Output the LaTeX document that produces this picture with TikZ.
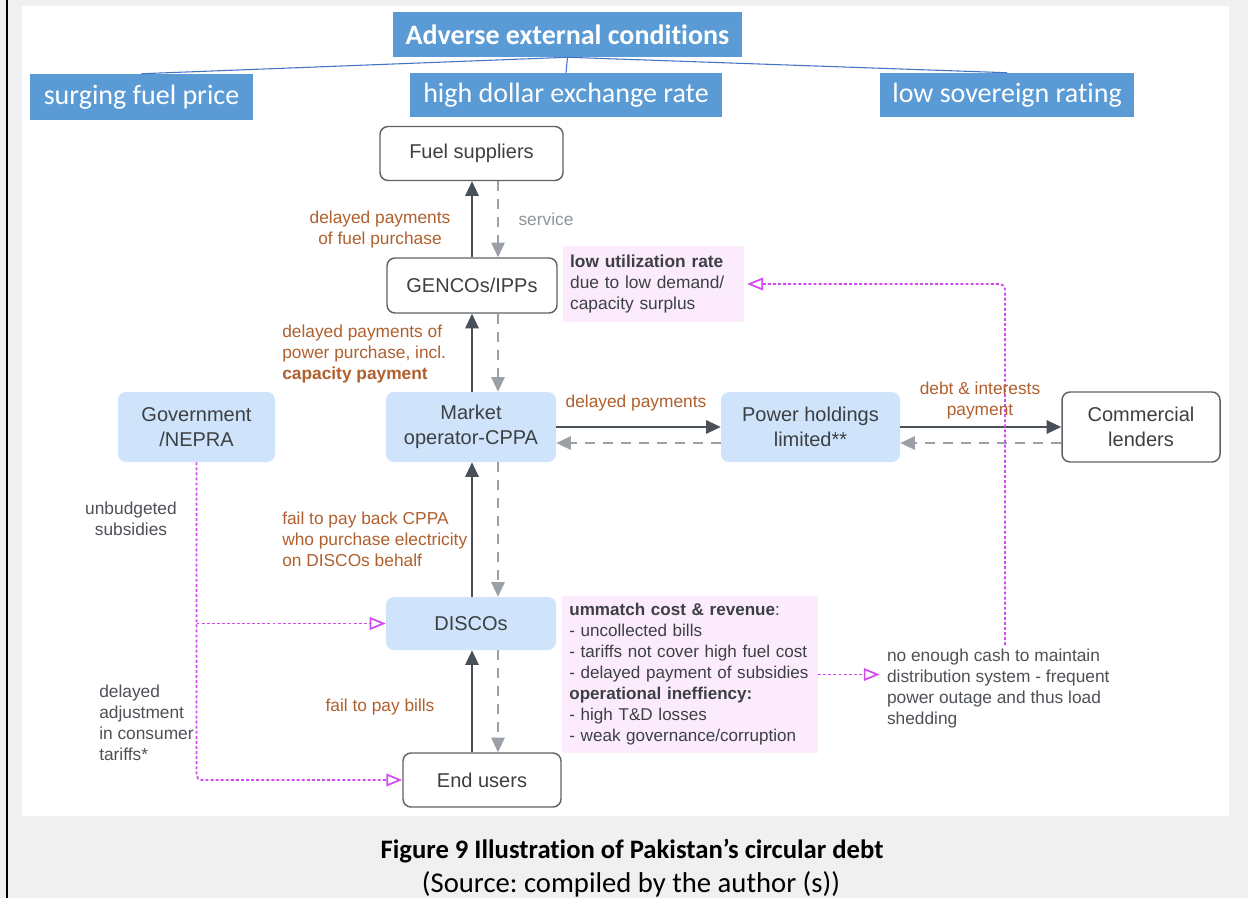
\documentclass[tikz,border=0pt]{standalone}
\usepackage{fontspec}
\setmainfont{Liberation Sans}
\newfontfamily\carlito[Ligatures=NoCommon]{Carlito}
\usetikzlibrary{arrows.meta}
\frenchspacing
\definecolor{bg}{HTML}{F0F0F0}
\definecolor{topblue}{HTML}{5B9BD5}
\definecolor{topline}{HTML}{4472C4}
\definecolor{lblue}{HTML}{CFE4FB}
\definecolor{txt}{HTML}{3C4043}
\definecolor{brd}{HTML}{5F6368}
\definecolor{solidc}{HTML}{4A5058}
\definecolor{dashc}{HTML}{9AA0A6}
\definecolor{orangec}{HTML}{B0602E}
\definecolor{pinkf}{HTML}{FBEBFD}
\definecolor{mag}{HTML}{D04CF0}
\definecolor{graytxt}{HTML}{4D5156}
\definecolor{svcgray}{HTML}{8F959B}
\tikzset{
  sz/.style 2 args={minimum width=#1*0.75pt, minimum height=#2*0.75pt},
  topbox/.style={fill=topblue, text=white, font=\carlito\fontsize{21}{24}\selectfont, inner sep=0pt},
  wbox/.style={draw=brd, line width=1.1pt, fill=white, rounded corners=6pt, text=txt,
    font=\fontsize{15}{18.75}\selectfont, align=center, inner sep=0pt},
  bbox/.style={fill=lblue, rounded corners=6pt, text=txt,
    font=\fontsize{15}{18.75}\selectfont, align=center, inner sep=0pt},
  note/.style={fill=pinkf, text=txt, font=\fontsize{12.8}{15.75}\selectfont, align=left,
    inner xsep=5.5pt, inner ysep=0pt},
  lbl/.style={text=orangec, font=\fontsize{13}{15.75}\selectfont, inner sep=0pt},
  glbl/.style={text=graytxt, font=\fontsize{13}{15.75}\selectfont, inner sep=0pt},
  pay/.style={draw=solidc, line width=1.5pt, -{Triangle[length=11pt,width=10pt]}},
  svc/.style={draw=dashc, line width=1.3pt, dash pattern=on 7.5pt off 6pt, -{Triangle[length=11pt,width=10pt]}},
  dotarr/.style={draw=mag, line width=1.4pt, dash pattern=on 2.2pt off 1.6pt, -{Triangle[open,length=12pt,width=9.5pt,line width=1.3pt]}},
}
\begin{document}
\begin{tikzpicture}[x=0.75pt,y=-0.75pt]
\fill[bg] (0,0) rectangle (1248,898);
\fill[white] (22,6) rectangle (1229,816);
\fill[black] (6,0) rectangle (8,898);
\useasboundingbox (0,0) rectangle (1248,898);

% top boxes
\node[topbox, sz={349}{45}, font=\carlito\bfseries\fontsize{21}{24}\selectfont] (adv) at (567.5,34.5) {Adverse external conditions};
\node[topbox, sz={223}{46}] (surg) at (141.5,97) {surging fuel price};
\node[topbox, sz={312}{44}] (high) at (566,95) {high dollar exchange rate};
\node[topbox, sz={254}{44}] (low) at (1007,95) {low sovereign rating};
\draw[topline, line width=0.8pt] (adv.south) -- (surg.north);
\draw[topline, line width=0.8pt] (adv.south) -- (high.north);
\draw[topline, line width=0.8pt] (adv.south) -- (low.north);

% main nodes
\node[wbox, sz={183}{54}] (fuel) at (471.5,153.5) {Fuel suppliers};
\node[wbox, sz={170}{55}] (genco) at (472,285.5) {GENCOs/IPPs};
\node[bbox, sz={170}{70}] (mkt) at (471,427) {Market\\operator-CPPA};
\node[bbox, sz={157}{70}] (gov) at (196.5,427) {Government\\/NEPRA};
\node[bbox, sz={179}{70}] (ph) at (810.5,427) {Power holdings\\limited**};
\node[wbox, sz={158}{70}] (cl) at (1141,427) {Commercial\\lenders};
\node[bbox, sz={170}{53}] (disc) at (471,623.5) {DISCOs};
\node[wbox, sz={158}{54}] (eu) at (482,780) {End users};

% notes
\node[note, font=\fontsize{13}{15.75}\selectfont, text width=125pt, minimum height=76*0.75pt] (lowu) at (653.5,284)
  {\textbf{low utilization rate}\\due to low demand/\\capacity surplus};
\node[note, text width=181pt, minimum height=157*0.75pt] (um) at (690,674.5)
  {\textbf{ummatch cost \& revenue}:\\- uncollected bills\\- tariffs not cover high fuel cost\\- delayed payment of subsidies\\\textbf{operational ineffiency:}\\- high T\&D losses\\- weak governance/corruption};
\node[glbl, anchor=west, align=left, inner xsep=5.25pt] (cash) at (879.75,689)
  {no enough cash to maintain\\distribution system - frequent\\power outage and thus load\\shedding};

% column helpers
\coordinate (sx) at (472,0);
\coordinate (dx) at (498,0);
\coordinate (mk) at (1005,0);

% vertical flows
\draw[pay] (genco.north -| sx) -- (fuel.south -| sx);
\draw[svc] (fuel.south -| dx) -- (genco.north -| dx);
\draw[pay] (mkt.north -| sx) -- (genco.south -| sx);
\draw[svc] (genco.south -| dx) -- (mkt.north -| dx);
\draw[pay] (disc.north -| sx) -- (mkt.south -| sx);
\draw[svc] (mkt.south -| dx) -- (disc.north -| dx);
\draw[pay] (eu.north -| sx) -- (disc.south -| sx);
\draw[svc] (disc.south -| dx) -- (eu.north -| dx);

% horizontal flows
\draw[pay] (mkt.east) -- (ph.west);
\draw[svc] ([yshift=-12pt]ph.west) -- ([yshift=-12pt]mkt.east);
\draw[pay] (ph.east) -- (cl.west);
\draw[svc] ([yshift=-12pt]cl.west) -- ([yshift=-12pt]ph.east);

% magenta dotted
\draw[dotarr, rounded corners=4pt] (gov.south) |- (eu.west);
\draw[dotarr] (gov.south |- disc.west) -- (disc.west);
\draw[dotarr] (um.east) -- (um.east -| cash.west);
\draw[dotarr, rounded corners=4pt] ([yshift=3pt]cash.north -| mk) |- ([xshift=2pt]lowu.east);

% labels
\node[lbl, align=center] (l1) at (380,229.5) {delayed payments\\of fuel purchase};
\node[text=svcgray, font=\fontsize{13}{15.75}\selectfont, inner sep=0pt] (l2) at (546,219) {service};
\node[lbl, align=left, anchor=west] (l3) at (282,354) {delayed payments of\\power purchase, incl.\\\textbf{capacity payment}};
\node[lbl] (l4) at (636,403) {delayed payments};
\node[lbl, align=center] (l5) at (980,400.5) {debt \& interests\\payment};
\node[lbl, align=left, anchor=west] (l6) at (282,539.5) {fail to pay back CPPA\\who purchase electricity\\on DISCOs behalf};
\node[lbl] (l7) at (380,707) {fail to pay bills};
\node[glbl, align=center] (l8) at (131,518.5) {unbudgeted\\subsidies};
\node[glbl, align=left, anchor=west] (l9) at (99,722.5) {delayed\\adjustment\\in consumer\\tariffs*};

% caption
\node[font=\carlito\bfseries\fontsize{20}{22}\selectfont, inner sep=0pt] (cap) at (632,851) {Figure 9 Illustration of Pakistan’s circular debt};
\node[font=\carlito\fontsize{21.5}{24}\selectfont, inner sep=0pt] (src) at (631,884) {(Source: compiled by the author (s))};
\end{tikzpicture}
\end{document}
